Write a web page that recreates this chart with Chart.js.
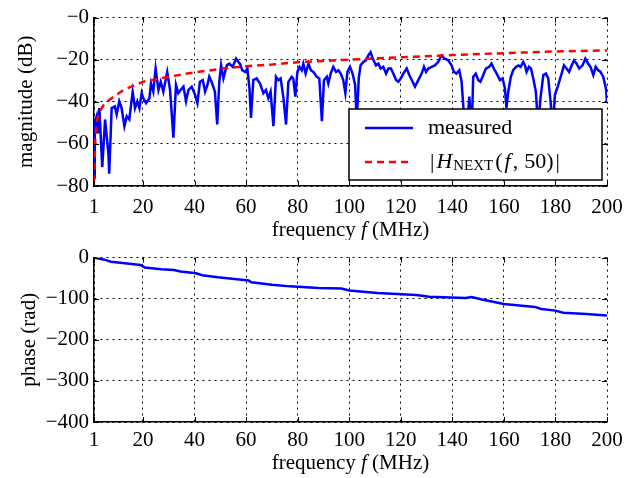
<!DOCTYPE html>
<html>
<head>
<meta charset="utf-8">
<script src="https://cdn.jsdelivr.net/npm/chart.js@4.4.1/dist/chart.umd.min.js"></script>
<style>
  html, body { margin: 0; padding: 0; background: #fff; }
  #wrap { position: relative; width: 628px; height: 478px; }
  .box { position: absolute; left: 0; width: 628px; }
</style>
</head>
<body>
<div id="wrap">
  <div class="box" style="top:0;height:240px"><canvas id="magChart"></canvas></div>
  <div class="box" style="top:240px;height:238px"><canvas id="phaseChart"></canvas></div>
</div>
<script>
// values
const xTicks = [1, 20, 40, 60, 80, 100, 120, 140, 160, 180, 200];

const measFreq = [1, 1.3, 2, 2.5, 3.07, 4.2, 5.3, 6.6, 6.9, 7.85, 9.1, 9.8, 10.8, 11.7, 12.8, 13.7, 14.7, 16.0, 16.9, 17.8, 18.6, 19.5, 20.1, 21.2, 22.5, 23.1, 24.0, 24.9, 26.0, 26.9, 27.9, 29.4, 30.5, 31.8, 32.8, 33.7, 34.6, 35.7, 36.7, 37.6, 38.9, 40.2, 41.1, 42.1, 43.2, 44.1, 45.0, 45.7, 46.6, 47.9, 48.8, 49.6, 50.3, 51.2, 52.5, 53.5, 54.8, 56.1, 57.0, 57.6, 58.5, 59.6, 60.5, 61.3, 61.9, 62.8, 64.1, 65.4, 66.7, 67.7, 68.6, 69.5, 70.6, 71.6, 72.5, 73.4, 74.5, 75.5, 76.4, 77.7, 78.3, 79.1, 79.9, 80.7, 81.6, 82.2, 83.1, 84.2, 85.1, 86.1, 87.4, 88.4, 89.4, 90.2, 91.3, 91.9, 92.8, 93.8, 94.9, 95.8, 96.7, 97.7, 98.5, 99.3, 100.3, 101.3, 102.3, 102.9, 103.7, 104.4, 105.5, 106.5, 107.4, 108.3, 109.4, 110.4, 111.3, 112.2, 113.2, 114.3, 115.2, 116.2, 117.1, 118.2, 119.1, 120.0, 121.0, 122.3, 123.3, 124.6, 125.5, 126.8, 128.1, 129.0, 129.8, 130.7, 132.0, 133.2, 134.5, 135.8, 137.1, 138.4, 139.7, 140.6, 141.6, 142.7, 143.6, 144.6, 145.5, 146.6, 147.5, 148.1, 149.1, 150.1, 150.9, 152.0, 153.0, 154.3, 155.2, 156.1, 157.2, 158.5, 159.5, 160.4, 161.0, 161.7, 162.7, 163.6, 164.7, 165.6, 166.5, 167.5, 168.2, 168.8, 169.7, 170.5, 171.4, 172.4, 173.3, 174.2, 175.3, 176.3, 177.2, 178.1, 178.9, 179.8, 181.1, 182.4, 183.3, 184.3, 185.3, 186.3, 187.2, 188.2, 189.2, 190.5, 191.6, 192.7, 193.6, 194.7, 195.6, 196.6, 197.5, 198.5, 199.6, 200];
const measMag = [-76, -50, -47, -55, -43, -71, -48.4, -64.8, -74.2, -43, -42.2, -46, -39.8, -43, -51.6, -46.9, -48.4, -35.2, -43, -39.8, -43, -35.9, -38.3, -40.6, -38.3, -31.3, -35.2, -24.2, -34.4, -30.5, -35.2, -25.8, -34.4, -57, -32, -35.9, -34.4, -32.8, -39.8, -34.4, -32.8, -36.7, -40.6, -30.5, -29.7, -35.2, -32, -28.1, -30.5, -35.2, -50.8, -30.5, -22.7, -28.9, -22.7, -21.9, -23.4, -19.5, -21.1, -21.9, -25, -25.8, -24.2, -33.6, -47.7, -29.7, -28.9, -31.3, -35.9, -34.4, -38.3, -35.2, -51.6, -28.1, -29.7, -28.9, -38.3, -50.8, -30.5, -28.1, -28.9, -37.5, -25.8, -23.4, -25, -21.9, -26.6, -21.9, -25, -25.8, -28.1, -28.9, -49.2, -29.7, -28.1, -31.3, -26.6, -23.4, -25.8, -25, -26.6, -29.7, -35.9, -25.8, -23.4, -26.6, -32, -50, -28.9, -22.7, -21.1, -20.3, -18, -16.4, -20.3, -22.7, -21.9, -24.2, -23.4, -26.6, -24.2, -24.2, -26.6, -29.7, -30.5, -28.9, -26.6, -24.2, -27.3, -30.5, -32.8, -29.7, -26.6, -23.4, -25.8, -24.2, -23.4, -22.7, -21.1, -18.0, -19.5, -20.3, -22.7, -25.8, -26.6, -25, -30.5, -48, -55, -37.5, -55, -28.1, -26.6, -29.7, -30.5, -27.3, -24.2, -23.4, -21.9, -24.2, -26.6, -29.7, -28.9, -33.6, -43, -35.2, -28.1, -25, -23.4, -22.7, -23.4, -21.1, -22.7, -25.8, -23.4, -24.2, -28.9, -35.2, -52, -38.3, -27.3, -26.6, -28.9, -39.8, -52, -36.7, -32, -26.6, -22.7, -24.2, -25.8, -22.7, -20.3, -21.9, -24.2, -22.7, -19.5, -21.9, -23.4, -27.3, -23.4, -25, -25.8, -28.1, -33.6, -40];

const modelFreq = [1, 1.5, 2, 3, 5, 7, 10, 12.4, 15, 20, 30, 40, 50, 60, 70, 80, 100, 120, 140, 160, 180, 200];
const modelMag = [-78, -58, -50, -45, -41, -39, -36.5, -34.4, -33, -30.5, -28.1, -26, -24.4, -23.1, -22.3, -21.2, -20, -18.8, -17.8, -16.9, -16.1, -15.6];

const phaseFreq = [1, 5, 7.6, 13, 19, 20.7, 27, 32, 34.5, 40.6, 43, 49, 61, 62, 70, 77, 88, 97, 100, 111, 126, 131, 145, 147.5, 151.5, 160, 172, 174.5, 180, 183, 192, 200];
const phaseRad = [0, -5, -10, -14, -18, -24, -28.5, -30, -34, -38, -43, -48, -55.5, -60, -66, -70, -74, -75, -80, -86, -91, -95, -98, -96, -102, -113, -120, -125, -129, -134, -137, -141];

const serif = "'Liberation Serif', 'DejaVu Serif', serif";
const tickFont = { family: serif, size: 21 };
const minus = v => (v < 0 ? '\u2212' + Math.abs(v) : String(v));

const pairs = (xs, ys) => xs.map((x, i) => ({ x, y: ys[i] }));

// tick padding also widens the right margin, so the labels are pushed down with an invisible tick length
function xScale(height, drop) {
    return {
        type: 'linear', min: 1, max: 200,
        afterBuildTicks: s => { s.ticks = xTicks.map(v => ({ value: v })); },
        afterFit: s => { s.height = height; },
        ticks: { font: tickFont, color: '#000', padding: 5, maxRotation: 0, autoSkip: false },
        grid: { color: '#000', lineWidth: 1, drawTicks: true, tickLength: drop, tickColor: 'rgba(0,0,0,0)' },
        border: { display: true, color: '#000', width: 1.5, dash: [2, 4] },
    };
}

function yScale(min, max, step, label, fmt, titlePad) {
    return {
        min, max,
        afterFit: s => { s.width = 94; },
        ticks: { stepSize: step, font: tickFont, color: '#000', padding: 5, callback: fmt },
        grid: { color: '#000', lineWidth: 1, drawTicks: false },
        border: { display: true, color: '#000', width: 1.5, dash: [2, 4] },
        title: { display: true, text: label, font: tickFont, color: '#000', padding: { top: titlePad, bottom: 0 } },
    };
}

// short inward tick marks on all four sides of the plot box
const boxTicks = {
    id: 'boxTicks',
    afterDraw(chart) {
        const { ctx, chartArea: a, scales: { x, y } } = chart;
        ctx.save();
        ctx.strokeStyle = '#000';
        ctx.lineWidth = 1;
        ctx.beginPath();
        x.ticks.forEach(t => {
            const px = Math.round(x.getPixelForValue(t.value)) + 0.5;
            ctx.moveTo(px, a.bottom); ctx.lineTo(px, a.bottom - 5);
            ctx.moveTo(px, a.top); ctx.lineTo(px, a.top + 5);
        });
        y.ticks.forEach(t => {
            const py = Math.round(y.getPixelForValue(t.value)) + 0.5;
            ctx.moveTo(a.left, py); ctx.lineTo(a.left + 5, py);
            ctx.moveTo(a.right, py); ctx.lineTo(a.right - 5, py);
        });
        ctx.stroke();
        ctx.restore();
    },
};

// x axis title with an italic f
const freqTitle = {
    id: 'freqTitle',
    afterDraw(chart, args, opts) {
        const ctx = chart.ctx;
        const parts = [['frequency ', ''], ['f', 'italic '], [' (MHz)', '']];
        ctx.save();
        ctx.fillStyle = '#000';
        ctx.textBaseline = 'middle';
        let total = 0;
        parts.forEach(([t, st]) => { ctx.font = `${st}21px ${serif}`; total += ctx.measureText(t).width; });
        let x = (chart.chartArea.left + chart.chartArea.right) / 2 - total / 2;
        parts.forEach(([t, st]) => {
            ctx.font = `${st}21px ${serif}`;
            ctx.fillText(t, x, opts.y);
            x += ctx.measureText(t).width;
        });
        ctx.restore();
    },
};

// opaque legend box drawn over the curves, inside the plot
const boxLegend = {
    id: 'boxLegend',
    afterDatasetsDraw(chart) {
        const ctx = chart.ctx;
        const x0 = 349, y0 = 109, w = 253, h = 71;
        ctx.save();
        ctx.fillStyle = '#fff';
        ctx.fillRect(x0, y0, w, h);
        ctx.strokeStyle = '#000';
        ctx.lineWidth = 1.5;
        ctx.strokeRect(x0, y0, w, h);

        ctx.lineWidth = 2.5;
        ctx.strokeStyle = '#0000ff';
        ctx.beginPath(); ctx.moveTo(365, 128); ctx.lineTo(413, 128); ctx.stroke();
        ctx.strokeStyle = '#ff0000';
        ctx.setLineDash([7, 5]);
        ctx.beginPath(); ctx.moveTo(365, 162); ctx.lineTo(413, 162); ctx.stroke();
        ctx.setLineDash([]);

        ctx.fillStyle = '#000';
        ctx.textBaseline = 'middle';
        ctx.font = `22px ${serif}`;
        ctx.fillText('measured', 428, 128);

        // |H_NEXT(f, 50)| set piece by piece
        let x = 430;
        const put = (t, font, gap, dy = 0) => {
            ctx.font = font;
            ctx.fillText(t, x, 162 + dy);
            x += ctx.measureText(t).width + gap;
        };
        put('|', `22px ${serif}`, 2);
        put('H', `italic 22px ${serif}`, 1);
        put('NEXT', `15px ${serif}`, 2, 4);
        put('(', `22px ${serif}`, 2);
        put('f', `italic 22px ${serif}`, 2);
        put(',', `22px ${serif}`, 6);
        put('50)', `22px ${serif}`, 2);
        put('|', `22px ${serif}`, 0);
        ctx.restore();
    },
};

new Chart(document.getElementById('magChart'), {
    type: 'line',
    data: {
        datasets: [
            { data: pairs(measFreq, measMag), borderColor: '#0000ff', borderWidth: 2.5, pointRadius: 0, tension: 0, order: 2 },
            { data: pairs(modelFreq, modelMag), borderColor: '#ff0000', borderWidth: 2.5, borderDash: [7, 5], pointRadius: 0, tension: 0, order: 1 },
        ],
    },
    options: {
        responsive: true,
        maintainAspectRatio: false,
        animation: false,
        layout: { padding: { left: 0, right: 21, top: 15, bottom: 0 } },
        plugins: { legend: { display: false }, tooltip: { enabled: false }, freqTitle: { y: 230 } },
        scales: {
            x: xScale(54, 4),
            y: yScale(-80, 0, 20, 'magnitude (dB)', v => (v === 0 ? '\u22120' : minus(v)), 14),
        },
    },
    plugins: [boxTicks, boxLegend, freqTitle],
});

new Chart(document.getElementById('phaseChart'), {
    type: 'line',
    data: {
        datasets: [
            { data: pairs(phaseFreq, phaseRad), borderColor: '#0000ff', borderWidth: 2.5, pointRadius: 0, tension: 0 },
        ],
    },
    options: {
        responsive: true,
        maintainAspectRatio: false,
        animation: false,
        layout: { padding: { left: 0, right: 21, top: 12, bottom: 0 } },
        plugins: { legend: { display: false }, tooltip: { enabled: false }, freqTitle: { y: 223 } },
        scales: {
            x: xScale(56, 1),
            y: yScale(-400, 0, 100, 'phase (rad)', minus, 17),
        },
    },
    plugins: [boxTicks, freqTitle],
});
</script>
</body>
</html>
